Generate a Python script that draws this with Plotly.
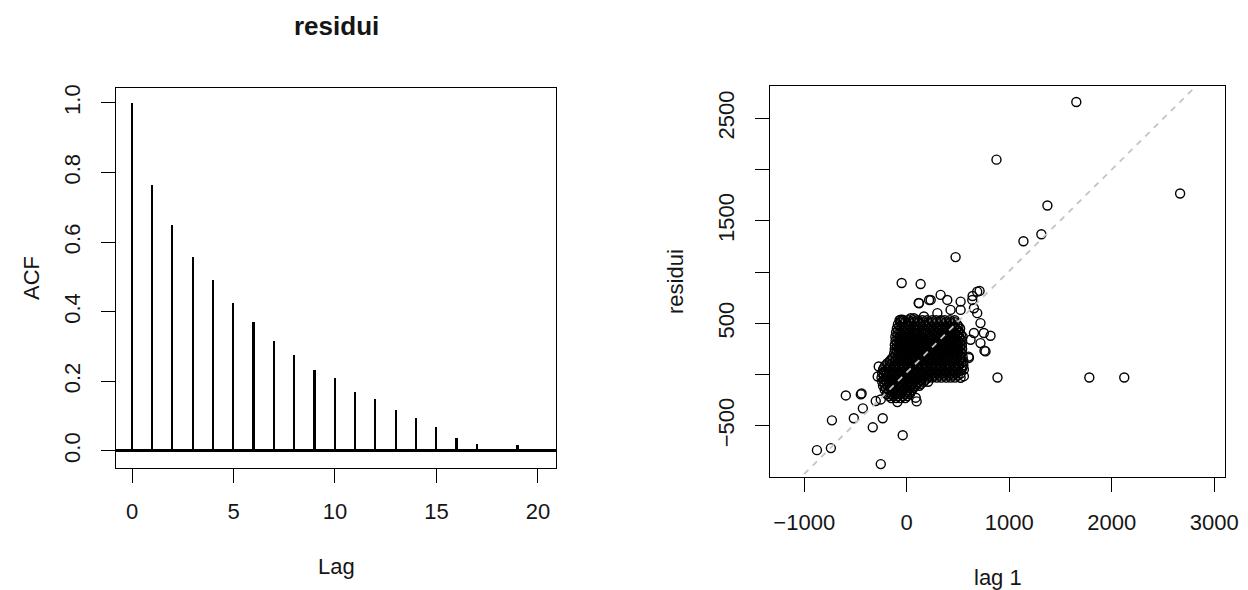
import plotly.graph_objects as go

# ---------------- data ----------------
lags = [0, 1, 2, 3, 4, 5, 6, 7, 8, 9, 10, 11, 12, 13, 14, 15, 16, 17, 18, 19, 20]
acf_values = [1.0, 0.763, 0.649, 0.557, 0.491, 0.426, 0.371, 0.317, 0.277, 0.234,
              0.209, 0.169, 0.149, 0.117, 0.094, 0.068, 0.036, 0.021, 0.002, 0.016, 0.001]
acf_ticks = [0.0, 0.2, 0.4, 0.6, 0.8, 1.0]
acf_ticktext = ["0.0", "0.2", "0.4", "0.6", "0.8", "1.0"]
lag_ticks = [0, 5, 10, 15, 20]

# scattered points of the lag plot (lag 1, residui)
outlier_x = [1655, 876, 2668, 1373, 1314, 1139, 477, 886, 1782, 2123, -594, -448, -440,
             -730, -516, -428, -331, -234, -39, -876, -740, -253, 97, -49, 136]
outlier_y = [2660, 2097, 1767, 1650, 1369, 1301, 1146, -29, -29, -29, -204, -194, -185,
             -447, -427, -330, -515, -427, -592, -738, -718, -874, -262, 893, 883]

fringe_x = [117, 218, 331, 396, 643, 711, 656, 688, 526, -42, 71, 818, 759, 720, 604, 656,
            558, 526, -273, -283, -91, -253, -302, 120, 234, 526, 688, 640, 720, 753, 769,
            607, 623, 558, 88, -58, 39, 168, 299, 428]
fringe_y = [699, 728, 777, 728, 767, 816, 647, 599, 631, 534, 550, 379, 233, 307, 175, 405,
            49, -32, 78, -19, -269, -243, -259, 696, 728, 712, 809, 728, 502, 405, 226,
            162, 340, -16, -226, 534, 550, 566, 599, 631]

# dense core of the cloud, read row by row
core_row_y = [530, 510, 490, 470, 450, 430, 410, 390, 370, 350, 330, 310, 290, 270, 250, 230,
              210, 190, 170, 150, 130, 110, 90, 70, 50, 30, 10, -10, -30, -50, -70, -90,
              -110, -130, -150, -170, -190, -210, -230]
core_row_x = [
    [-70, -28, 18, 66, 108, 152, 198, 247, 288, 333, 372, 421, 468],
    [-62, -18, 28, 72, 118, 162, 206, 250, 294, 338, 382, 426, 470],
    [-86, -41, 6, 48, 96, 138, 183, 224, 272, 313, 361, 402, 444, 492],
    [-73, -28, 18, 62, 106, 150, 196, 240, 286, 330, 374, 418, 462, 505],
    [-96, -52, -4, 41, 83, 127, 168, 217, 258, 306, 348, 392, 433, 481, 521],
    [-83, -38, 8, 52, 96, 142, 186, 232, 276, 322, 366, 410, 455, 500],
    [-104, -61, -13, 31, 76, 118, 162, 203, 252, 293, 341, 383, 431, 468, 516],
    [-88, -42, 2, 48, 92, 136, 182, 226, 272, 316, 360, 404, 448, 492, 530],
    [-111, -66, -21, 27, 68, 112, 153, 202, 243, 291, 331, 374, 422, 463, 511, 546],
    [-90, -45, 0, 44, 88, 130, 174, 220, 264, 308, 350, 396, 440, 482, 524],
    [-109, -69, -23, 21, 66, 107, 151, 193, 241, 284, 329, 371, 417, 461, 503, 541],
    [-93, -48, -3, 40, 84, 128, 172, 216, 260, 304, 348, 392, 436, 480, 520],
    [-116, -71, -26, 19, 63, 104, 149, 193, 237, 283, 324, 371, 414, 459, 501, 539],
    [-95, -50, -6, 38, 82, 126, 170, 212, 258, 300, 344, 390, 434, 478, 520],
    [-117, -73, -27, 17, 61, 104, 149, 189, 236, 279, 323, 367, 413, 454, 499, 541],
    [-98, -52, -8, 36, 80, 124, 166, 210, 254, 298, 342, 388, 432, 476, 518],
    [-121, -74, -31, 16, 57, 101, 144, 189, 231, 277, 321, 364, 411, 451, 496, 538],
    [-110, -62, -18, 28, 74, 118, 162, 206, 252, 296, 340, 386, 430, 472, 518],
    [-134, -89, -41, 4, 51, 94, 141, 184, 231, 274, 319, 361, 409, 449, 494, 546],
    [-150, -104, -58, -12, 34, 78, 124, 168, 214, 258, 304, 348, 394, 438, 482, 528],
    [-166, -117, -73, -27, 17, 63, 107, 153, 197, 243, 287, 333, 377, 423, 467, 513, 554],
    [-188, -142, -96, -52, -6, 38, 84, 128, 174, 218, 264, 308, 354, 398, 444, 490, 534],
    [-209, -166, -119, -76, -29, 14, 61, 104, 151, 194, 241, 284, 331, 374, 421, 464, 511, 553],
    [-220, -175, -130, -85, -40, 5, 50, 95, 140, 185, 230, 275, 320, 365, 410, 455, 500, 545],
    [-231, -184, -141, -94, -51, -4, 41, 84, 131, 174, 221, 264, 311, 354, 401, 444, 491, 534],
    [-218, -172, -128, -82, -38, 8, 52, 98, 142, 188, 232, 278, 322, 368, 412, 456, 505],
    [-239, -196, -149, -106, -59, -16, 31, 74, 121, 164, 211, 254, 301, 344, 391, 434, 479, 526],
    [-222, -176, -132, -86, -42, 4, 48, 94, 138, 184, 228, 274, 318, 364, 408, 452, 498],
    [-246, -199, -156, -109, -66, -19, 26, 69, 116, 159, 206, 249, 296, 339, 386, 429, 471],
    [-222, -176, -130, -86, -40, 6, 50, 96, 140, 186],
    [-239, -196, -149, -106, -59, -14, 29, 76, 119, 166, 209],
    [-215, -170, -124, -80, -34, 10, 56, 100, 140],
    [-231, -184, -141, -94, -51, -4, 39, 86, 124],
    [-205, -158, -114, -68, -22, 24, 66],
    [-214, -171, -124, -81, -34, 11, 54],
    [-180, -136, -90, -46, 4, 40],
    [-196, -149, -106, -59, -16, 31],
    [-172, -128, -84, -38, 6],
    [-151, -104, -61, -14],
]

# reference line (intercept, slope)
ref_line_coef = [20.0, 0.99]
lag_x_ticks = [-1000, 0, 1000, 2000, 3000]
lag_x_ticktext = ["\u22121000", "0", "1000", "2000", "3000"]
res_y_ticks = [-500, 0, 500, 1000, 1500, 2000, 2500]
res_y_ticktext = ["\u2212500", "", "500", "", "1500", "", "2500"]

# ---------------- figure ----------------
W, H = 1248, 590
FONT = "Liberation Sans, Arial, Helvetica, sans-serif"
TICKF = 22
TXT = "#151515"

core_x, core_y = [], []
for yv, xs in zip(core_row_y, core_row_x):
    for xv in xs:
        core_x.append(xv)
        core_y.append(yv)

all_x = core_x + fringe_x + outlier_x
all_y = core_y + fringe_y + outlier_y

fig = go.Figure()

fig.add_trace(go.Bar(x=lags, y=acf_values, width=0.085, marker=dict(color="black", line=dict(width=0)),
                     xaxis="x", yaxis="y", showlegend=False))

fig.add_trace(go.Scatter(x=all_x, y=all_y, mode="markers", xaxis="x2", yaxis="y2",
                         marker=dict(symbol="circle-open", size=9, color="black", line=dict(width=1.4)),
                         showlegend=False))

lx = [-1500, 3500]
ly = [ref_line_coef[0] + ref_line_coef[1] * v for v in lx]
fig.add_trace(go.Scatter(x=lx, y=ly, mode="lines", xaxis="x2", yaxis="y2",
                         line=dict(color="#c4c4c4", width=1.8, dash="6px,6px"), showlegend=False))

axis_common = dict(showline=True, linecolor="black", linewidth=1, mirror=True, ticks="outside",
                   ticklen=14, tickwidth=1, tickcolor="black", showgrid=False,
                   automargin=False, tickfont=dict(family=FONT, size=TICKF, color=TXT))

fig.update_layout(
    width=W, height=H, template="none",
    margin=dict(l=0, r=0, t=0, b=0),
    paper_bgcolor="white", plot_bgcolor="white",
    bargap=0,
    xaxis=dict(domain=[116 / W, 556 / W], range=[-0.79, 20.89], tickvals=lag_ticks,
               ticklabelstandoff=10, zeroline=False, **axis_common),
    yaxis=dict(domain=[1 - 468 / H, 1 - 88 / H], range=[-0.049, 1.043], tickvals=acf_ticks,
               ticktext=acf_ticktext, tickangle=-90, ticklabelstandoff=12,
               zeroline=True, zerolinecolor="black", zerolinewidth=3, **axis_common),
    xaxis2=dict(domain=[770 / W, 1225 / W], range=[-1334, 3106], tickvals=lag_x_ticks,
                ticktext=lag_x_ticktext, ticklabelstandoff=12, anchor="y2", zeroline=False,
                **axis_common),
    yaxis2=dict(domain=[1 - 477 / H, 1 - 86 / H], range=[-1000, 2816], tickvals=res_y_ticks,
                ticktext=res_y_ticktext, tickangle=-90, ticklabelstandoff=12, anchor="x2",
                zeroline=False, **axis_common),
    annotations=[
        dict(text="<b>residui</b>", x=336 / W, y=1 - 26 / H, xref="paper", yref="paper",
             showarrow=False, font=dict(family=FONT, size=26, color=TXT),
             xanchor="center", yanchor="middle"),
        dict(text="ACF", x=31 / W, y=1 - 278 / H, xref="paper", yref="paper", textangle=-90,
             showarrow=False, font=dict(family=FONT, size=TICKF, color=TXT),
             xanchor="center", yanchor="middle"),
        dict(text="Lag", x=336 / W, y=1 - 566 / H, xref="paper", yref="paper",
             showarrow=False, font=dict(family=FONT, size=TICKF, color=TXT),
             xanchor="center", yanchor="middle"),
        dict(text="residui", x=675 / W, y=1 - 282 / H, xref="paper", yref="paper", textangle=-90,
             showarrow=False, font=dict(family=FONT, size=TICKF, color=TXT),
             xanchor="center", yanchor="middle"),
        dict(text="lag 1", x=998 / W, y=1 - 577 / H, xref="paper", yref="paper",
             showarrow=False, font=dict(family=FONT, size=TICKF, color=TXT),
             xanchor="center", yanchor="middle"),
    ],
)

fig.write_html("out.html")
